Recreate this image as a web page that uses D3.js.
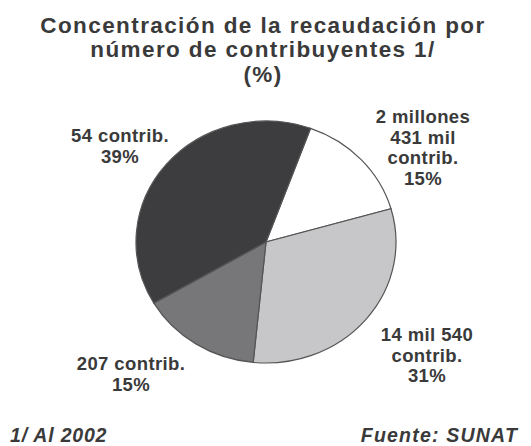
<!DOCTYPE html>
<html>
<head>
<meta charset="utf-8">
<script src="https://cdn.jsdelivr.net/npm/d3@7"></script>
<style>
  body { margin: 0; background: #fff; }
  text { font-family: "Liberation Sans", Arial, sans-serif; font-weight: bold; fill: #3a3a3a; }
</style>
</head>
<body>
<div id="chart"></div>
<script>
// Data
var groups = ["2 millones|431 mil|contrib.", "14 mil 540|contrib.", "207 contrib.", "54 contrib."];
var shares = [15, 31, 15, 39];
var titleLines = ["Concentración de la recaudación por", "número de contribuyentes 1/", "(%)"];
var note = "1/ Al 2002";
var source = "Fuente: SUNAT";

// Layout
var width = 531, height = 446;
var cx = 266, cy = 242, rx = 130, ry = 121;
var fills = ["#ffffff", "#c7c7c9", "#77777a", "#3d3d3f"];
// label anchor (centre x, first baseline y) per slice
var labelPos = [[423, 123], [427, 341], [131, 370], [120, 142]];

var svg = d3.select("#chart").append("svg")
  .attr("width", width)
  .attr("height", height);

// Title
svg.append("g").selectAll("text")
  .data(titleLines)
  .enter().append("text")
  .attr("x", 263)
  .attr("y", function(d, i) { return 33 + i * 24.3; })
  .attr("text-anchor", "middle")
  .style("font-size", "22.5px")
  .style("letter-spacing", "1.4px")
  .text(function(d) { return d; });

// Pie
var pie = d3.pie().sort(null).value(function(d) { return d; })
  .startAngle(0.35).endAngle(0.35 + 2 * Math.PI);
var arc = d3.arc().innerRadius(0).outerRadius(ry);

var slices = svg.append("g")
  .attr("transform", "translate(" + cx + "," + cy + ") scale(" + (rx / ry) + ",1)");

slices.selectAll("path")
  .data(pie(shares))
  .enter().append("path")
  .attr("d", arc)
  .style("fill", function(d, i) { return fills[i]; })
  .style("stroke", "#555")
  .style("stroke-width", 1.2)
  .attr("vector-effect", "non-scaling-stroke");

// Slice labels
var labels = svg.append("g").selectAll("text")
  .data(groups)
  .enter().append("text")
  .attr("text-anchor", "middle")
  .style("font-size", "18.5px")
  .style("letter-spacing", "0.4px")
  .attr("transform", function(d, i) { return "translate(" + labelPos[i][0] + "," + labelPos[i][1] + ")"; });

labels.each(function(d, i) {
  var lines = d.split("|").concat([shares[i] + "%"]);
  d3.select(this).selectAll("tspan")
    .data(lines)
    .enter().append("tspan")
    .attr("x", 0)
    .attr("y", function(l, j) { return j * 20.5; })
    .text(function(l) { return l; });
});

// Footer
svg.append("text")
  .attr("x", 10).attr("y", 442)
  .style("font-size", "19.5px").style("font-style", "italic")
  .style("letter-spacing", "0.8px")
  .text(note);
svg.append("text")
  .attr("x", 518).attr("y", 442)
  .attr("text-anchor", "end")
  .style("font-size", "19.5px").style("font-style", "italic")
  .style("letter-spacing", "1.2px")
  .text(source);
</script>
</body>
</html>
